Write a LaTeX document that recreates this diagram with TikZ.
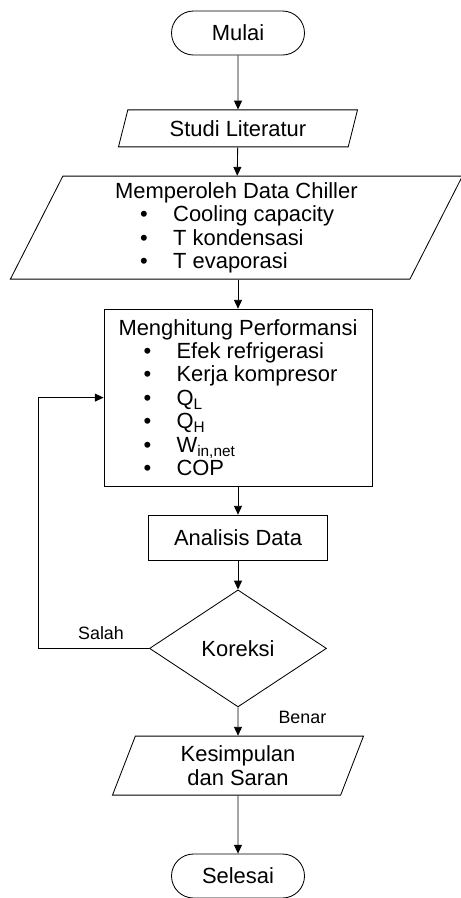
\documentclass[tikz,border=0pt]{standalone}
\usepackage{fontspec}
\setmainfont{Liberation Sans}
\usetikzlibrary{shapes.geometric,arrows.meta}

\newcommand{\butir}[1]{\makebox[41.3pt][l]{\hspace*{17.8pt}\textbullet}#1}

\tikzset{
  base/.style={draw=black, line width=0.6pt, inner sep=0pt, font=\fontsize{15.6}{16.7}\selectfont},
  terminal/.style={base, rectangle, rounded corners=0.55cm, minimum width=3.325cm, minimum height=1.1cm},
  proses/.style={base, rectangle},
  io/.style={base, trapezium, trapezium left angle=60, trapezium right angle=120, trapezium stretches body},
  keputusan/.style={base, diamond},
  panah/.style={-{Triangle[width=0.2cm,length=0.22cm]}, line width=0.6pt},
  label/.style={font=\fontsize{12.7}{14}\selectfont}
}

\begin{document}
\begin{tikzpicture}
\useasboundingbox (0,0) rectangle (11.525,-22.45);

\node[terminal](mulai) at (5.95,-0.825) {Mulai};
\node[io, minimum width=5.975cm, minimum height=0.925cm](studi) at (5.95,-3.21) {Studi Literatur};
\node[io, minimum width=11.3cm, minimum height=2.575cm, align=left](data) at (5.91,-5.69)
  {Memperoleh Data Chiller\\ \butir{Cooling capacity}\\ \butir{T kondensasi}\\ \butir{T evaporasi}};
\node[proses, minimum width=6.7cm, minimum height=4.425cm, align=left](hitung) at (5.95,-9.94)
  {Menghitung Performansi\\ \butir{Efek refrigerasi}\\ \butir{Kerja kompresor}\\ \butir{Q\textsubscript{L}}\\
   \butir{Q\textsubscript{H}}\\ \butir{W\textsubscript{in,net}}\\ \butir{COP}};
\node[proses, minimum width=4.475cm, minimum height=1.125cm](analisis) at (5.95,-13.44) {Analisis Data};
\node[keputusan, minimum width=4.425cm, minimum height=2.925cm](koreksi) at (5.95,-16.21) {Koreksi};
\node[io, minimum width=6.275cm, minimum height=1.475cm, align=center](simpul) at (5.95,-19.14)
  {Kesimpulan\\ dan Saran};
\node[terminal](selesai) at (5.95,-21.9) {Selesai};

\coordinate (balik) at (0.95,-16.21);

\node[label](salah) at (2.525,-15.83) {Salah};
\node[label](benar) at (7.56,-17.93) {Benar};

\draw[panah] (mulai) -- (studi);
\draw[panah] (studi) -- (data);
\draw[panah] (hitung.north |- data.south) -- (hitung.north);
\draw[panah] (hitung) -- (analisis);
\draw[panah] (analisis) -- (koreksi);
\draw[panah] (koreksi) -- (simpul);
\draw[panah] (simpul) -- (selesai);
\draw[panah] (koreksi.west) -- (balik) |- (hitung.west);
\end{tikzpicture}
\end{document}
